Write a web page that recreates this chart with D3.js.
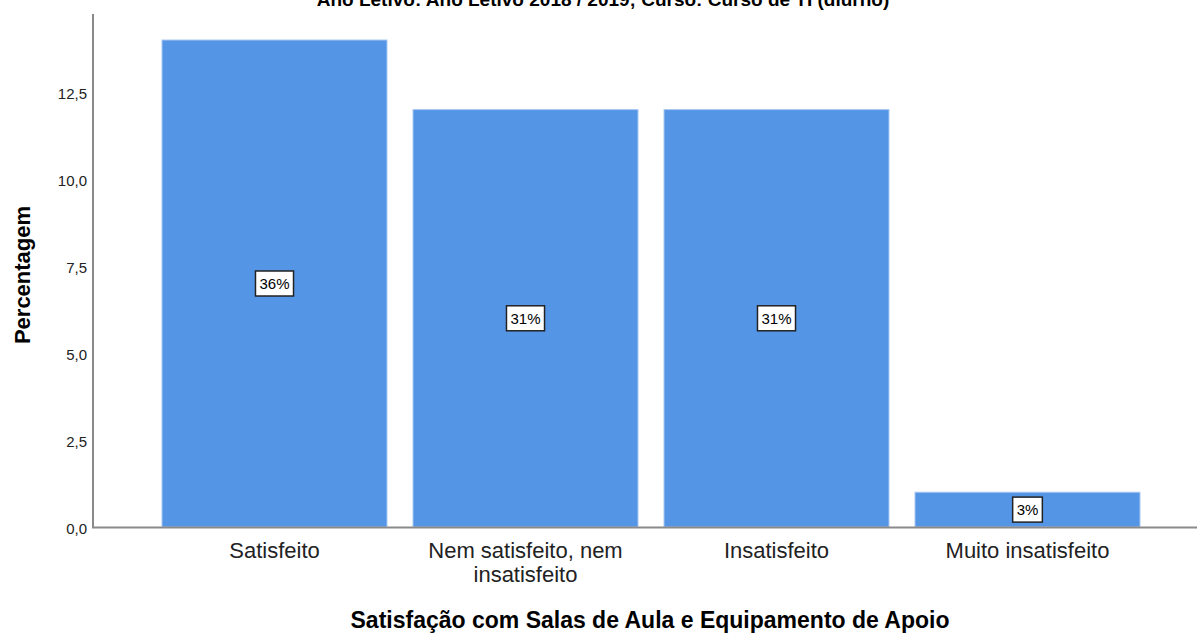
<!DOCTYPE html>
<html>
<head>
<meta charset="utf-8">
<script src="https://cdn.jsdelivr.net/npm/d3@7"></script>
<style>
  body { margin: 0; background: #fff; }
  svg { display: block; font-family: "Liberation Sans", Arial, sans-serif; }
</style>
</head>
<body>
<div id="chart"></div>
<script>
// data
const categories = ["Satisfeito", "Nem satisfeito, nem insatisfeito", "Insatisfeito", "Muito insatisfeito"];
const categoryLines = [["Satisfeito"], ["Nem satisfeito, nem", "insatisfeito"], ["Insatisfeito"], ["Muito insatisfeito"]];
const values = [14, 12, 12, 1];
const percentLabels = ["36%", "31%", "31%", "3%"];
const yTicks = [0, 2.5, 5, 7.5, 10, 12.5];

const width = 1197, height = 634;
const svg = d3.select('#chart').append('svg')
    .attr('width', width)
    .attr('height', height);

// scales
const x = d3.scaleBand()
    .domain(categories)
    .range([149, 1153])
    .paddingInner(26 / 251)
    .paddingOuter(13 / 251);

const y = d3.scaleLinear()
    .domain([0, 14])
    .range([527, 40]);

// title (cropped at top like the original)
svg.append('text')
    .attr('x', 603)
    .attr('y', 6)
    .attr('text-anchor', 'middle')
    .attr('font-size', 19)
    .attr('font-weight', 'bold')
    .attr('fill', '#000')
    .text('Ano Letivo: Ano Letivo 2018 / 2019; Curso: Curso de TI (diurno)');

// bars
svg.append('g')
    .selectAll('rect')
    .data(values)
    .enter().append('rect')
    .attr('x', (d, i) => x(categories[i]))
    .attr('y', d => y(d))
    .attr('width', x.bandwidth())
    .attr('height', d => y(0) - y(d))
    .attr('fill', '#5595e5')
    .attr('stroke', '#a9c9f2')
    .attr('stroke-width', 1);

// y axis
const yAxis = d3.axisLeft(y)
    .tickValues(yTicks)
    .tickSize(0)
    .tickPadding(6)
    .tickFormat(d => d3.format('.1f')(d).replace('.', ','));

const gy = svg.append('g')
    .attr('transform', 'translate(93,0)')
    .call(yAxis);
gy.select('.domain').remove();
gy.selectAll('text')
    .attr('font-size', 15)
    .attr('dy', '0.45em')
    .attr('fill', '#222')
    .attr('font-family', '"Liberation Sans", Arial, sans-serif');

// axis lines
svg.append('line')
    .attr('x1', 93).attr('x2', 93)
    .attr('y1', 14).attr('y2', 528)
    .attr('stroke', '#8a8a8a')
    .attr('stroke-width', 2);
svg.append('line')
    .attr('x1', 92).attr('x2', 1197)
    .attr('y1', 527.5).attr('y2', 527.5)
    .attr('stroke', '#8a8a8a')
    .attr('stroke-width', 2);

// x category labels
const xl = svg.append('g')
    .selectAll('text')
    .data(categoryLines)
    .enter().append('text')
    .attr('x', (d, i) => x(categories[i]) + x.bandwidth() / 2)
    .attr('y', 558)
    .attr('text-anchor', 'middle')
    .attr('font-size', 22)
    .attr('fill', '#222');
xl.selectAll('tspan')
    .data(d => d)
    .enter().append('tspan')
    .attr('x', function() { return d3.select(this.parentNode).attr('x'); })
    .attr('dy', (d, i) => i === 0 ? 0 : 24)
    .text(d => d);

// percentage labels
const lbl = svg.append('g')
    .selectAll('g')
    .data(values)
    .enter().append('g')
    .attr('transform', (d, i) => `translate(${x(categories[i]) + x.bandwidth() / 2},${y(d / 2)})`);

lbl.append('text')
    .attr('text-anchor', 'middle')
    .attr('dy', '0.36em')
    .attr('font-size', 15)
    .attr('fill', '#000')
    .text((d, i) => percentLabels[i]);

lbl.each(function() {
    const g = d3.select(this);
    const bb = g.select('text').node().getBBox();
    g.insert('rect', 'text')
        .attr('x', bb.x - 4)
        .attr('y', -12.5)
        .attr('width', bb.width + 8)
        .attr('height', 25)
        .attr('fill', '#fff')
        .attr('stroke', '#222')
        .attr('stroke-width', 1.5);
});

// axis titles
svg.append('text')
    .attr('transform', 'translate(30,275) rotate(-90)')
    .attr('text-anchor', 'middle')
    .attr('font-size', 22)
    .attr('font-weight', 'bold')
    .attr('fill', '#000')
    .text('Percentagem');

svg.append('text')
    .attr('x', 650)
    .attr('y', 628)
    .attr('text-anchor', 'middle')
    .attr('font-size', 23)
    .attr('font-weight', 'bold')
    .attr('fill', '#000')
    .text('Satisfação com Salas de Aula e Equipamento de Apoio');
</script>
</body>
</html>
